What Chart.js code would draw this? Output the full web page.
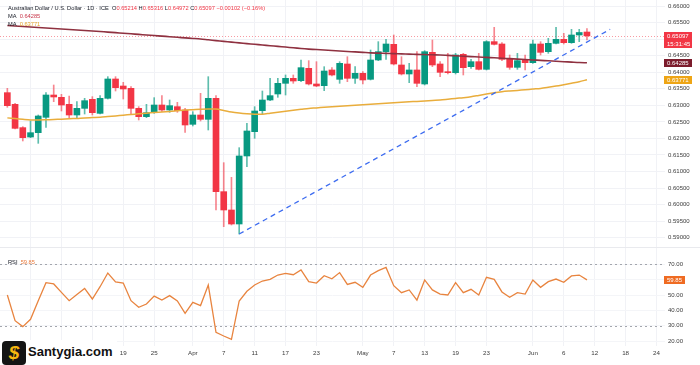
<!DOCTYPE html>
<html><head><meta charset="utf-8">
<script src="https://cdn.jsdelivr.net/npm/chart.js@4.4.1/dist/chart.umd.min.js"></script>
<style>
html,body{margin:0;padding:0;background:#fff;width:700px;height:365px;overflow:hidden;font-family:"Liberation Sans",Arial,sans-serif;}
#wrap{position:relative;width:700px;height:365px;}
#pc{position:absolute;left:0;top:0;}
#rc{position:absolute;left:0;top:248px;}
.sep{position:absolute;left:0;top:247px;width:700px;height:1px;background:#e9eaee;}
.hdr{position:absolute;left:8px;font-size:5.7px;color:#131722;white-space:nowrap;line-height:7px;}
.r{color:#F23645}
.logo{position:absolute;left:1px;top:340px;height:25px;width:116px;background:#fff;}
.ic{position:absolute;left:1px;top:1px;width:24px;height:24px;border-radius:4px;background:#141414;color:#f6b70f;font-weight:bold;font-style:italic;font-size:19px;line-height:24px;text-align:center;}
.lt{position:absolute;left:27px;top:4px;font-size:13px;font-weight:bold;color:#111;line-height:16px;}
</style></head>
<body><div id="wrap">
<canvas id="pc" width="700" height="248"></canvas>
<div class="sep"></div>
<canvas id="rc" width="700" height="117"></canvas>
<div class="hdr" id="h1" style="top:5px"></div>
<div class="hdr" id="h2" style="top:13px"></div>
<div class="hdr" id="h3" style="top:21px"></div>
<div class="hdr" id="h4" style="top:259px"></div>
<div class="logo"><div class="ic">$</div><div class="lt">Santygia.com</div></div>
</div>
<script>
// ---- data (AUD/USD daily, Feb 26 – Jun 11) ----
const dates = ["Feb 26","Feb 27","Feb 28","Mar 3","Mar 4","Mar 5","Mar 6","Mar 7","Mar 10","Mar 11",
"Mar 12","Mar 13","Mar 14","Mar 17","Mar 18","Mar 19","Mar 20","Mar 21","Mar 24","Mar 25",
"Mar 26","Mar 27","Mar 28","Mar 31","Apr 1","Apr 2","Apr 3","Apr 4","Apr 7","Apr 8",
"Apr 9","Apr 10","Apr 11","Apr 14","Apr 15","Apr 16","Apr 17","Apr 18","Apr 21","Apr 22",
"Apr 23","Apr 24","Apr 25","Apr 28","Apr 29","Apr 30","May 1","May 2","May 5","May 6",
"May 7","May 8","May 9","May 12","May 13","May 14","May 15","May 16","May 19","May 20",
"May 21","May 22","May 23","May 26","May 27","May 28","May 29","May 30","Jun 2","Jun 3",
"Jun 4","Jun 5","Jun 6","Jun 9","Jun 10","Jun 11"];
const open = [
0.63382,0.63029,0.62325,0.62042,0.62173,0.62637,0.63311,0.63241,0.63029,0.62707,
0.62908,0.63180,0.62757,0.63211,0.63795,0.63583,0.63513,0.62908,0.62657,0.62788,
0.63009,0.62858,0.62959,0.62858,0.62425,0.62707,0.62576,0.63211,0.60391,0.59837,
0.59414,0.61469,0.62204,0.62838,0.63160,0.63342,0.63664,0.63815,0.63744,0.64117,
0.63644,0.63593,0.64067,0.63785,0.64248,0.63815,0.63966,0.63785,0.64369,0.64620,
0.64842,0.64218,0.63946,0.64067,0.63644,0.64600,0.64248,0.64016,0.63986,0.64540,
0.64167,0.64318,0.64087,0.64923,0.64852,0.64389,0.64147,0.64369,0.64288,0.64852,
0.64620,0.64872,0.64993,0.64892,0.65124,0.65214];
const high = [
0.63513,0.63060,0.62355,0.62526,0.62707,0.63382,0.63613,0.63331,0.63281,0.63110,
0.63211,0.63261,0.63291,0.63865,0.63865,0.63694,0.63563,0.62959,0.63029,0.63231,
0.63291,0.63160,0.63090,0.62908,0.62808,0.63362,0.63865,0.63291,0.61267,0.60824,
0.61720,0.62455,0.62959,0.63432,0.63815,0.63815,0.63916,0.63916,0.64369,0.64349,
0.64318,0.64167,0.64137,0.64318,0.64469,0.64167,0.64016,0.64671,0.64923,0.64993,
0.65124,0.64469,0.64268,0.64620,0.64651,0.64973,0.64318,0.64570,0.64570,0.64570,
0.64389,0.64570,0.64953,0.65356,0.64892,0.64520,0.64570,0.64520,0.64973,0.64923,
0.65023,0.65356,0.65174,0.65295,0.65295,0.65316];
const low = [
0.62939,0.62284,0.61922,0.62022,0.61851,0.62335,0.63110,0.62828,0.62627,0.62606,
0.62737,0.62707,0.62737,0.63190,0.63432,0.63190,0.62727,0.62556,0.62627,0.62757,
0.62808,0.62788,0.62788,0.62183,0.62375,0.62526,0.62254,0.59837,0.59334,0.59384,
0.59112,0.61146,0.62002,0.62737,0.63140,0.63241,0.63311,0.63664,0.63714,0.63614,
0.63563,0.63442,0.63885,0.63664,0.63714,0.63664,0.63644,0.63765,0.64349,0.64389,
0.64218,0.63916,0.63684,0.63563,0.63614,0.64167,0.63865,0.63946,0.63946,0.63916,
0.64117,0.64067,0.64067,0.64822,0.64349,0.64087,0.64087,0.64067,0.64268,0.64520,
0.64570,0.64852,0.64852,0.64872,0.64923,0.64972];
const close = [
0.62989,0.62304,0.62022,0.62173,0.62677,0.63311,0.63251,0.63009,0.62707,0.62908,
0.63140,0.62777,0.63211,0.63795,0.63533,0.63493,0.62908,0.62657,0.62777,0.63009,
0.62858,0.62989,0.62838,0.62405,0.62707,0.62576,0.63211,0.60391,0.59837,0.59414,
0.61469,0.62224,0.62828,0.63160,0.63291,0.63664,0.63815,0.63734,0.64137,0.63644,
0.63583,0.64036,0.63916,0.64268,0.63815,0.63966,0.63765,0.64369,0.64620,0.64852,
0.64248,0.63946,0.64067,0.63664,0.64620,0.64218,0.63996,0.63986,0.64520,0.64137,
0.64318,0.64087,0.64923,0.64842,0.64389,0.64147,0.64349,0.64288,0.64852,0.64600,
0.64872,0.64993,0.64892,0.65124,0.65199,0.65097];
const maLong = [
0.65411,0.65396,0.65381,0.65366,0.65351,0.65336,0.65321,0.65306,0.65290,0.65275,
0.65260,0.65245,0.65230,0.65212,0.65195,0.65177,0.65160,0.65142,0.65125,0.65107,
0.65090,0.65072,0.65055,0.65037,0.65020,0.65002,0.64978,0.64955,0.64932,0.64908,
0.64885,0.64864,0.64843,0.64822,0.64801,0.64780,0.64759,0.64738,0.64716,0.64698,
0.64684,0.64670,0.64656,0.64642,0.64627,0.64613,0.64599,0.64584,0.64575,0.64568,
0.64561,0.64554,0.64547,0.64540,0.64533,0.64526,0.64520,0.64508,0.64496,0.64484,
0.64471,0.64459,0.64447,0.64435,0.64423,0.64409,0.64396,0.64383,0.64370,0.64357,
0.64344,0.64331,0.64318,0.64305,0.64292,0.64285];
const maShort = [
0.62620,0.62598,0.62577,0.62559,0.62556,0.62562,0.62571,0.62580,0.62592,0.62604,
0.62620,0.62629,0.62638,0.62659,0.62680,0.62701,0.62722,0.62743,0.62762,0.62783,
0.62801,0.62813,0.62834,0.62855,0.62867,0.62879,0.62885,0.62888,0.62843,0.62798,
0.62768,0.62746,0.62731,0.62731,0.62761,0.62792,0.62822,0.62852,0.62879,0.62907,
0.62922,0.62940,0.62955,0.62970,0.62985,0.63003,0.63018,0.63033,0.63049,0.63064,
0.63076,0.63091,0.63106,0.63118,0.63133,0.63148,0.63160,0.63184,0.63209,0.63230,
0.63257,0.63299,0.63342,0.63381,0.63411,0.63432,0.63450,0.63468,0.63490,0.63511,
0.63544,0.63580,0.63623,0.63668,0.63713,0.63771];
const rsi = [
50.0,33.3,29.4,34.2,46.3,58.0,57.2,51.7,46.3,50.4,
54.3,47.4,55.4,64.3,58.5,57.8,46.3,42.0,44.1,49.3,
46.7,49.6,46.1,38.0,45.2,43.1,56.5,25.7,23.3,21.1,
46.1,52.4,56.5,59.1,60.2,63.0,64.1,63.2,66.3,58.7,
57.8,62.6,60.6,64.6,56.9,58.3,55.0,63.0,65.9,68.0,
56.1,51.5,53.3,46.7,59.8,53.3,50.6,50.0,58.0,51.5,
53.7,50.0,61.5,60.2,52.0,48.5,51.5,50.6,59.8,55.0,
58.7,60.4,58.3,62.4,63.0,59.85];
// trend line: from Apr 9 low to bar 78 (Jun 16)
const trendIdx = [30, 78];
const trendVal = [0.59112, 0.65296];
// axis ticks
const xTickIdx = [3,7,11,15,19,24,28,32,36,40,46,50,54,58,62,68,72,76,80,84];
const xTickLabels = ["Mar","7","13","19","25","Apr","7","11","17","23","May","7","13","19","23","Jun","6","12","18","24"];
const priceTicks = [0.590,0.595,0.600,0.605,0.610,0.615,0.620,0.625,0.630,0.635,0.640,0.645,0.650,0.655,0.660];
const rsiTicks = [20,30,40,50,60,70];
const rsiBands = [70,30];
const countdown = "15:31:45";

// ---- build ----
const N = close.length, L = N-1;
const GREEN = '#089981', RED = '#F23645';
const isUp = i => close[i] >= open[i];
const FONT = '"Liberation Sans", Arial, sans-serif';

const chg = close[L]-close[L-1];
document.getElementById('h1').innerHTML =
 'Australian Dollar / U.S. Dollar · 1D · ICE&nbsp; O<span class="r">'+open[L].toFixed(5)+
 '</span> H<span class="r">'+high[L].toFixed(5)+'</span> L<span class="r">'+low[L].toFixed(5)+
 '</span> C<span class="r">'+close[L].toFixed(5)+'</span> <span class="r">'+(chg<0?'−':'+')+Math.abs(chg).toFixed(5)+
 ' ('+(chg<0?'−':'+')+Math.abs(chg/close[L-1]*100).toFixed(2)+'%)</span>';
document.getElementById('h2').innerHTML = 'MA&nbsp; <span style="color:#c8374b">'+maLong[L].toFixed(5)+'</span>';
document.getElementById('h3').innerHTML = 'MA&nbsp; <span style="color:#e6a52a">'+maShort[L].toFixed(5)+'</span>';
document.getElementById('h4').innerHTML = 'RSI&nbsp; <span style="color:#e8793a">'+rsi[L].toFixed(2)+'</span>';

function noPad(s){ s.paddingTop = 0; s.paddingBottom = 0; s.paddingLeft = 0; s.paddingRight = 0; }
function xScale(show){
  return {type:'linear', min:-0.95, max:85.1, offset:false,
    afterBuildTicks(s){ s.ticks = xTickIdx.map(v=>({value:v})); },
    ticks:{display:show, autoSkip:false, maxRotation:0, color:'#3b3b3b', padding:4,
      font:{size:6.2, family:FONT}, callback:(v,i)=>xTickLabels[i]},
    grid:{color:'#f1f2f6', drawTicks:false, lineWidth:1, offset:false},
    border:{display:false},
    afterFit(s){ s.height = show ? 19 : 0; noPad(s); }
  };
}
function drawTag(ctx, x, yv, bg, lines, w){
  ctx.save();
  ctx.font = '6px '+FONT;
  const lh = 8, h = lines.length*lh;
  const top = Math.round(yv - 4);
  ctx.fillStyle = bg; ctx.fillRect(x-1, top, w, h);
  ctx.fillStyle = '#fff'; ctx.textBaseline = 'middle'; ctx.textAlign = 'left';
  lines.forEach((t,k)=>ctx.fillText(t, x+2, top + lh/2 + 0.5 + k*lh));
  ctx.restore();
}
const pricePlugin = {
  id:'pricePlugin',
  beforeDatasetsDraw(c){
    const {ctx, chartArea:a, scales:{y}} = c;
    const yy = Math.round(y.getPixelForValue(close[L]))+0.5;
    ctx.save(); ctx.strokeStyle='rgba(242,54,69,0.5)'; ctx.setLineDash([1,2]); ctx.lineWidth=1;
    ctx.beginPath(); ctx.moveTo(a.left,yy); ctx.lineTo(a.right,yy); ctx.stroke(); ctx.restore();
  },
  afterDraw(c){
    const {ctx, chartArea:a, scales:{y}} = c;
    drawTag(ctx, a.right, y.getPixelForValue(maLong[L]), '#7c1c2c', [maLong[L].toFixed(5)], 28);
    drawTag(ctx, a.right, y.getPixelForValue(maShort[L]), '#eea515', [maShort[L].toFixed(5)], 28);
    drawTag(ctx, a.right, y.getPixelForValue(close[L]), '#F23645', [close[L].toFixed(5), countdown], 28);
  }
};
const idx = close.map((_,i)=>i);
new Chart(document.getElementById('pc'), {
  type:'bar',
  data:{datasets:[
    {type:'line', data:trendIdx.map((x,k)=>({x, y:trendVal[k]})), borderColor:'#3d6cf0', borderWidth:1.3,
     borderDash:[5,4], pointRadius:0, order:0},
    {type:'line', data:idx.map(i=>({x:i, y:maLong[i]})), borderColor:'#8f3140', borderWidth:1.6,
     pointRadius:0, tension:0.3, order:1},
    {type:'line', data:idx.map(i=>({x:i, y:maShort[i]})), borderColor:'#e9ad3c', borderWidth:1.5,
     pointRadius:0, tension:0.3, order:1},
    {type:'bar', data:idx.map(i=>({x:i, y:[open[i], close[i]]})), barThickness:6, minBarLength:1,
     grouped:false, borderWidth:0, backgroundColor:c=>isUp(c.dataIndex)?GREEN:RED, order:2},
    {type:'bar', data:idx.map(i=>({x:i, y:[low[i], high[i]]})), barThickness:1,
     grouped:false, borderWidth:0, backgroundColor:c=>isUp(c.dataIndex)?'rgba(8,153,129,0.65)':'rgba(242,54,69,0.6)', order:3}
  ]},
  options:{responsive:false, animation:false, devicePixelRatio:1,
    layout:{padding:0},
    plugins:{legend:{display:false}, tooltip:{enabled:false}},
    scales:{
      x: xScale(false),
      y:{position:'right', min:0.586888, max:0.661813,
        afterBuildTicks(s){ s.ticks = priceTicks.map(v=>({value:v})); },
        ticks:{callback:v=>Number(v).toFixed(5), color:'#3b3b3b', padding:3, font:{size:6, family:FONT}},
        grid:{color:'#f1f2f6', drawTicks:false}, border:{display:false},
        afterFit(s){ s.width = 35; noPad(s); }}
    }
  },
  plugins:[pricePlugin]
});

const rsiPlugin = {
  id:'rsiPlugin',
  beforeDatasetsDraw(c){
    const {ctx, chartArea:a, scales:{y}} = c;
    ctx.save(); ctx.strokeStyle='#a3a6ad'; ctx.setLineDash([2,3]); ctx.lineWidth=1;
    rsiBands.forEach(v=>{ const yy=Math.round(y.getPixelForValue(v))+0.5;
      ctx.beginPath(); ctx.moveTo(a.left,yy); ctx.lineTo(a.right,yy); ctx.stroke(); });
    ctx.restore();
  },
  afterDraw(c){
    const {ctx, chartArea:a, scales:{y}} = c;
    drawTag(ctx, a.right, y.getPixelForValue(rsi[L]), '#ef6b22', [rsi[L].toFixed(2)], 21);
  }
};
new Chart(document.getElementById('rc'), {
  type:'line',
  data:{datasets:[{data:idx.map(i=>({x:i, y:rsi[i]})), borderColor:'#e8843f', borderWidth:1.3, pointRadius:0, tension:0}]},
  options:{responsive:false, animation:false, devicePixelRatio:1,
    layout:{padding:0},
    plugins:{legend:{display:false}, tooltip:{enabled:false}},
    scales:{
      x: xScale(true),
      y:{position:'right', min:16.78, max:80.62,
        afterBuildTicks(s){ s.ticks = rsiTicks.map(v=>({value:v})); },
        ticks:{callback:v=>Number(v).toFixed(2), color:'#3b3b3b', padding:3, font:{size:6, family:FONT}},
        grid:{color:'#f4f5f8', drawTicks:false}, border:{display:false},
        afterFit(s){ s.width = 35; noPad(s); }}
    }
  },
  plugins:[rsiPlugin]
});
</script>
</body></html>
